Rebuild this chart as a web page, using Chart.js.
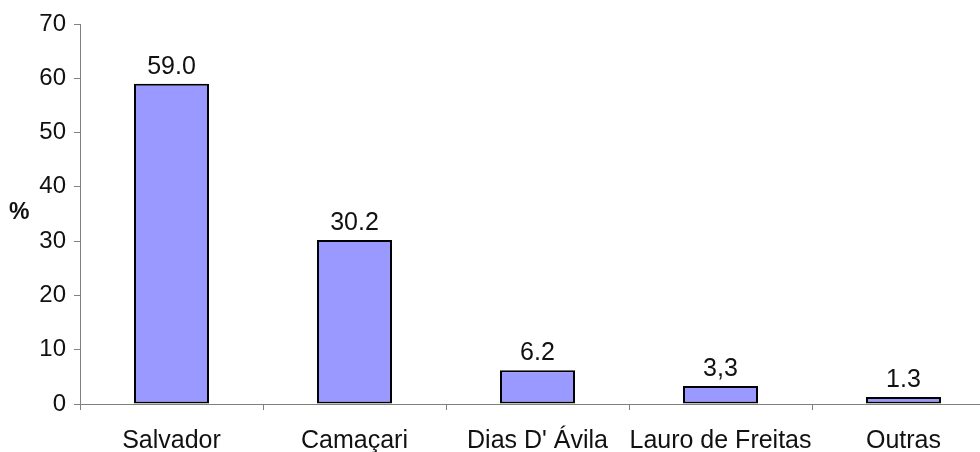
<!DOCTYPE html>
<html>
<head>
<meta charset="utf-8">
<script src="https://cdn.jsdelivr.net/npm/chart.js@4"></script>
<style>
    html, body { margin: 0; padding: 0; background: #fff; overflow: hidden; }
    #wrap { position: relative; width: 1000px; height: 452px; }
</style>
</head>
<body>
<div id="wrap"><canvas id="chart"></canvas></div>
<script>
// Chart data
const categories = ['Salvador', 'Camaçari', "Dias D' Ávila", 'Lauro de Freitas', 'Outras'];
const shares = [59.0, 30.2, 6.2, 3.3, 1.3];
const valueLabels = ['59.0', '30.2', '6.2', '3,3', '1.3'];
const yTicks = [0, 10, 20, 30, 40, 50, 60, 70];
const yTitle = '%';

const axisGray = '#808080';
const textColor = '#111';

// Draw the values above bars and the "%" axis label
const barLabels = {
    id: 'barLabels',
    afterDatasetsDraw(chart) {
        const ctx = chart.ctx;
        const meta = chart.getDatasetMeta(0);
        ctx.save();
        ctx.fillStyle = textColor;
        ctx.font = '25px "Liberation Sans", Arial, sans-serif';
        ctx.textAlign = 'center';
        ctx.textBaseline = 'alphabetic';
        meta.data.forEach((bar, i) => {
            ctx.fillText(valueLabels[i], bar.x, bar.y - 10);
        });
        ctx.font = 'bold 23px "Liberation Sans", Arial, sans-serif';
        ctx.textAlign = 'left';
        ctx.textBaseline = 'middle';
        ctx.fillText(yTitle, 9, 213);
        ctx.restore();
    }
};

new Chart(document.getElementById('chart'), {
    type: 'bar',
    data: {
        labels: categories,
        datasets: [{
            data: shares,
            backgroundColor: '#9999FF',
            borderColor: '#000',
            borderWidth: 2,
            borderSkipped: false,
            barPercentage: 0.41,
            categoryPercentage: 1
        }]
    },
    options: {
        responsive: true,
        maintainAspectRatio: false,
        animation: false,
        layout: { padding: { top: 24, right: 5, left: 0, bottom: 0 } },
        plugins: {
            legend: { display: false },
            tooltip: { enabled: false }
        },
        scales: {
            y: {
                min: 0,
                max: 70,
                afterFit(scale) { scale.width = 80; },
                afterBuildTicks(scale) { scale.ticks = yTicks.map(v => ({ value: v })); },
                border: { color: axisGray, width: 1 },
                grid: { drawOnChartArea: false, drawTicks: true, tickLength: 6, color: axisGray },
                ticks: {
                    color: textColor,
                    padding: 8,
                    font: { family: '"Liberation Sans", Arial, sans-serif', size: 24 }
                }
            },
            x: {
                afterFit(scale) { scale.height = 48; },
                border: { color: axisGray, width: 1 },
                grid: { offset: true, drawOnChartArea: false, drawTicks: true, tickLength: 6, color: axisGray },
                ticks: {
                    color: textColor,
                    padding: 16,
                    maxRotation: 0,
                    autoSkip: false,
                    font: { family: '"Liberation Sans", Arial, sans-serif', size: 25 }
                }
            }
        }
    },
    plugins: [barLabels]
});
</script>
</body>
</html>
